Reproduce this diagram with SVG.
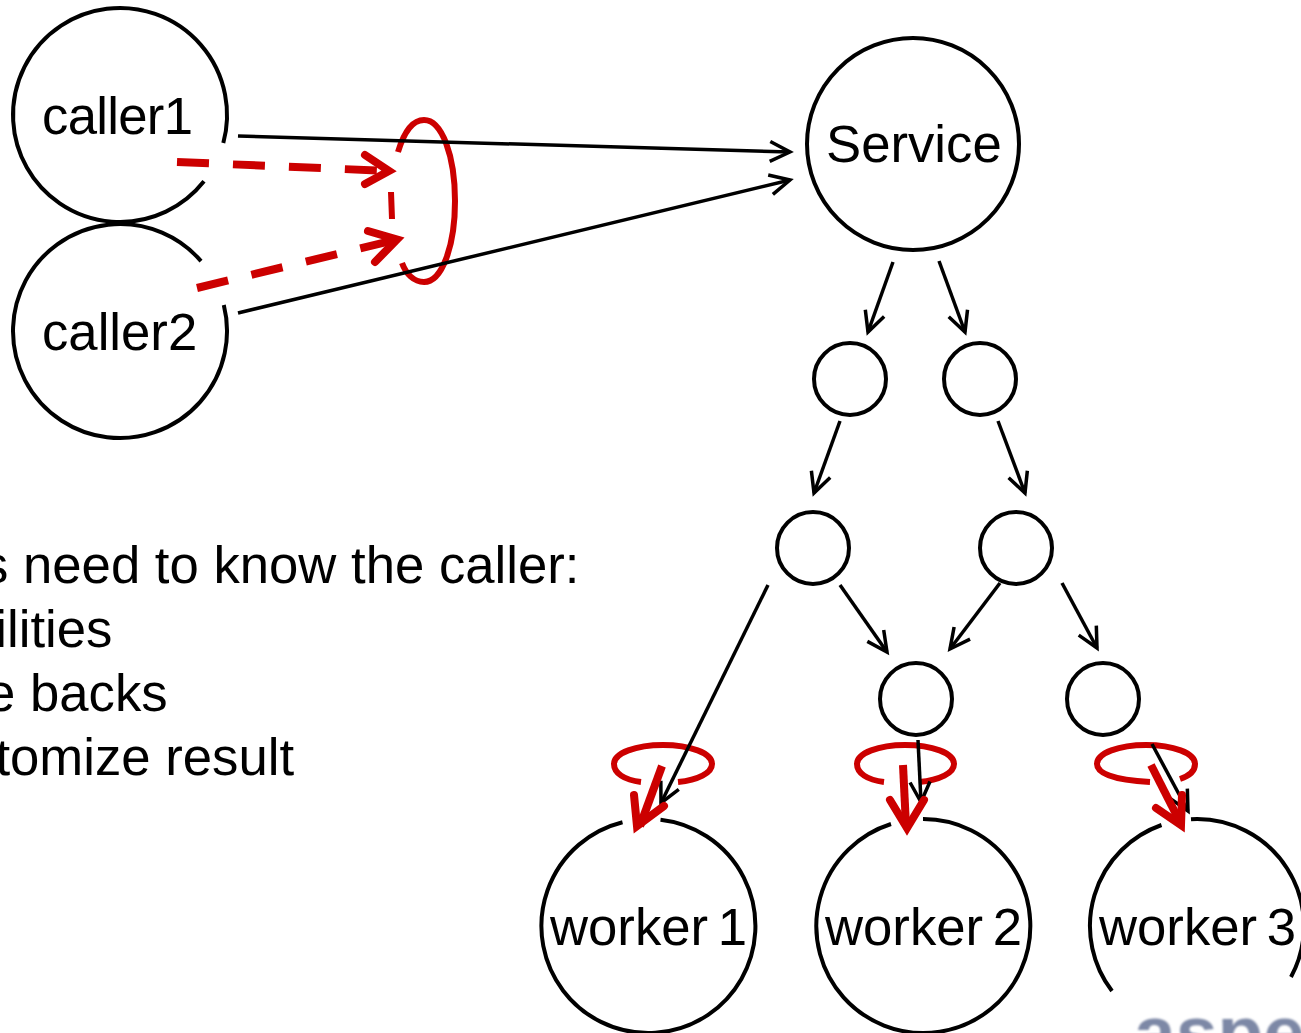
<svg xmlns="http://www.w3.org/2000/svg" width="1301" height="1033" viewBox="0 0 1301 1033">
<style>
text{font-family:"Liberation Sans",Arial,sans-serif;font-size:52.700px;fill:#000}
.w{word-spacing:-5px}
.n{fill:none;stroke:#000;stroke-width:4}
.r{fill:none;stroke:#c00;stroke-width:6}
.c line{stroke:#000;stroke-width:3.500;fill:none;marker-end:url(#a)}
.d{stroke:#c00;stroke-width:8;fill:none;stroke-dasharray:32 24}
.h{stroke:#c00;stroke-width:8;fill:none;stroke-linecap:round}
.t{stroke:#c00;stroke-width:8;fill:none}
</style>
<defs>
<marker id="a" markerUnits="userSpaceOnUse" markerWidth="30" markerHeight="30" refX="24" refY="12" orient="auto" overflow="visible">
<path d="M4 2L24 12L4 22" fill="none" stroke="#000" stroke-width="3.500"/>
</marker>
<filter id="b"><feGaussianBlur stdDeviation="1.200"/></filter>
</defs>
<rect width="1301" height="1033" fill="#fff"/>
<g id="caller1"><path class="n" d="M223.300 143A107 107 0 1 0 204 181.300"/><text x="42" y="134" textLength="151" lengthAdjust="spacing">caller1</text></g>
<g id="caller2"><path class="n" d="M201 261.100A107 107 0 1 0 223.800 305"/><text x="42" y="350">caller2</text></g>
<g id="service"><circle class="n" cx="913" cy="144" r="106"/><text x="826" y="162">Service</text></g>
<g id="hub1"><circle class="n" cx="850" cy="379" r="36"/></g>
<g id="hub2"><circle class="n" cx="980" cy="379" r="36"/></g>
<g id="hub3"><circle class="n" cx="813" cy="548" r="36"/></g>
<g id="hub4"><circle class="n" cx="1016" cy="548" r="36"/></g>
<g id="hub5"><circle class="n" cx="916" cy="699" r="36"/></g>
<g id="hub6"><circle class="n" cx="1103" cy="699" r="36"/></g>
<g id="worker1"><path class="n" d="M660.500 819.700A107 107 0 1 1 622.500 822.200"/><text class="w" x="550" y="945">worker 1</text></g>
<g id="worker2"><path class="n" d="M923 819A107 107 0 1 1 891 824"/><text class="w" x="825" y="945">worker 2</text></g>
<g id="worker3"><path class="n" d="M1191 819.200A107 107 0 0 1 1291 977M1112 991A107 107 0 0 1 1161.500 825"/><text class="w" x="1099" y="945">worker 3</text></g>
<g id="body-text">
<text x="-18" y="583">s need to know the caller:</text>
<text x="-4.700" y="647">ilities</text>
<text x="-14" y="711">e backs</text>
<text x="-4.600" y="775">tomize result</text>
</g>
<g id="logo"><text x="1134" y="1058" filter="url(#b)" style="font-size:75px;font-weight:bold;fill:#7d88a6">aspe</text></g>
<g id="scopes">
<path class="r" d="M398 152C404 132 413 120 424 120C442 120 455 156 455 201C455 246 442 282 424 282C414 282 406 274 402 263M391 192L392 219"/>
<path class="r" d="M641 782C624 780 614 773 614 764C614 753 636 745 663 745C690 745 712 753 712 764C712 773 698 780 678 782"/>
<path class="r" d="M884 782C867 780 857 773 857 764C857 753 879 745 905 745C932 745 954 753 954 764C954 773 940 780 919 782"/>
<path class="r" d="M1150 782C1112 780 1097 773 1097 764C1097 753 1119 745 1146 745C1173 745 1195 753 1195 764C1195 771 1189 776 1180 779"/>
</g>
<g id="connectors" class="c">
<line x1="238" y1="136" x2="790" y2="152"/>
<line x1="238" y1="313" x2="790" y2="180"/>
<line x1="893" y1="262" x2="868" y2="332"/>
<line x1="939" y1="261" x2="965" y2="332"/>
<line x1="840" y1="421" x2="814" y2="493"/>
<line x1="998" y1="421" x2="1025" y2="493"/>
<line x1="768" y1="585" x2="661" y2="803"/>
<line x1="840" y1="585" x2="887" y2="652"/>
<line x1="1000" y1="583" x2="950" y2="649"/>
<line x1="1062" y1="583" x2="1097" y2="648"/>
<line x1="918" y1="740" x2="921" y2="802"/>
<line x1="1152" y1="744" x2="1188" y2="811"/>
</g>
<g id="red-connectors">
<path class="d" d="M177 162L389 171"/>
<path class="h" d="M365 155L389 171L365 184"/>
<path class="d" d="M197 288L397 239.500"/>
<path class="h" d="M368 231L397 239.500L375 262"/>
<path class="t" d="M662 766L640 826"/>
<path class="h" d="M634 795L637 826L664 806"/>
<path class="t" d="M903 765L906 826"/>
<path class="h" d="M890 800L907 828L924 800"/>
<path class="t" d="M1151 765L1181 824"/>
<path class="h" d="M1156 808L1181 825L1182 795"/>
</g>
</svg>
